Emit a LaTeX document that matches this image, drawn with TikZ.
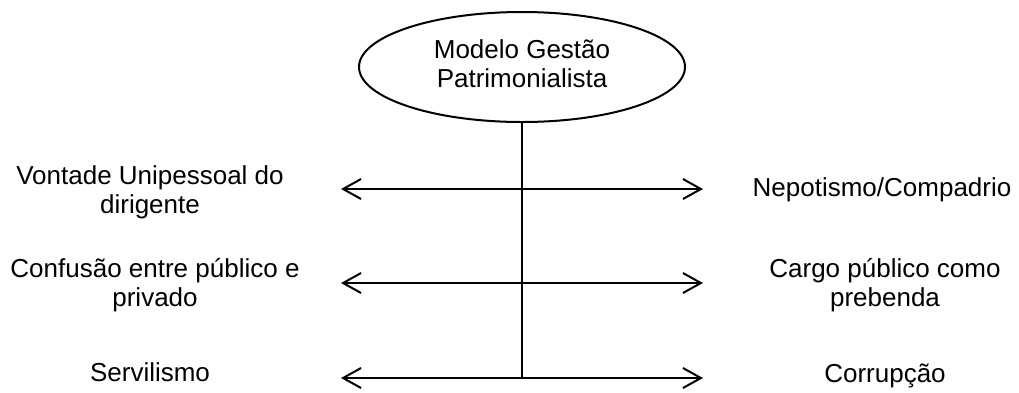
\documentclass[tikz,border=0pt]{standalone}
\usepackage{fontspec}
\setmainfont{Liberation Sans}
\usetikzlibrary{shapes.geometric,arrows.meta}
\tikzset{
  lbl/.style={align=center, inner sep=0pt, font=\fontsize{26}{29}\selectfont},
  line/.style={line width=2pt, draw=black},
  bothways/.style={line, {Straight Barb[length=18pt,width=20pt]}-{Straight Barb[length=18pt,width=20pt]}},
}
\begin{document}
\begin{tikzpicture}[x=1pt, y=-1pt]
  \useasboundingbox (0,0) rectangle (1019,392);

  % root of the tree
  \node[ellipse, line, minimum width=326pt, minimum height=110pt, inner sep=0pt] (root) at (522,67) {};
  \node[lbl] (roottext) at (522,64) {Modelo Gestão\\Patrimonialista};

  % trunk
  \coordinate (trunkend) at (522,378);
  \draw[line] (root.south) -- (trunkend);

  % branch ends
  \coordinate (l1) at (341,189);  \coordinate (r1) at (703,189);
  \coordinate (l2) at (341,283);  \coordinate (r2) at (703,283);
  \coordinate (l3) at (341,378);  \coordinate (r3) at (703,378);
  \draw[bothways] (l1) -- (r1);
  \draw[bothways] (l2) -- (r2);
  \draw[bothways] (l3) -- (r3);

  % left-hand traits
  \node[lbl] (t1) at (150,192) {Vontade Unipessoal do\\dirigente};
  \node[lbl] (t2) at (155,285) {Confusão entre público e\\privado};
  \node[lbl] (t3) at (150,372) {Servilismo};

  % right-hand traits
  \node[lbl] (u1) at (882,190) {Nepotismo/Compadrio};
  \node[lbl] (u2) at (885,285) {Cargo público como\\prebenda};
  \node[lbl] (u3) at (885,376) {Corrupção};
\end{tikzpicture}
\end{document}
